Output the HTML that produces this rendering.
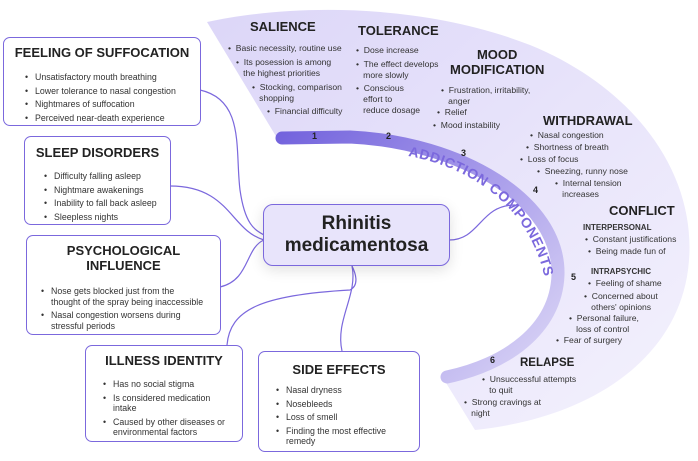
<!DOCTYPE html>
<html><head><meta charset="utf-8"><style>
body{margin:0;width:698px;height:461px;background:#fff;position:relative;overflow:hidden;font-family:"Liberation Sans","DejaVu Sans",sans-serif;color:#222}
.b{position:absolute;background:#fff;border:1.5px solid #7b68dd;border-radius:7px;box-sizing:border-box}
.t{position:absolute;font-weight:bold;font-size:13px;color:#222;white-space:nowrap;text-align:center}
.l{position:absolute;font-size:8.6px;line-height:11px;color:#333;white-space:nowrap}
ul{margin:0;padding:0;list-style:none}
.b ul{position:absolute;font-size:8.8px;line-height:13.5px;color:#333}
.b li{padding-left:10px;position:relative}
.b li:before{content:"•";position:absolute;left:0}
svg{position:absolute;left:0;top:0}
</style></head><body>
<svg width="698" height="461">
<defs>
<linearGradient id="g" x1="0" y1="0" x2="1" y2="1"><stop offset="0" stop-color="#dcd6f8"/><stop offset="1" stop-color="#f4f2fd"/></linearGradient>
<linearGradient id="bd" gradientUnits="userSpaceOnUse" x1="270" y1="130" x2="540" y2="390"><stop offset="0" stop-color="#7060dc"/><stop offset="0.5" stop-color="#a79bea"/><stop offset="1" stop-color="#dcd7f6"/></linearGradient>
</defs>
<path d="M207,22 C290,4 420,2 530,45 C640,90 700,180 688,270 C676,360 590,418 475,430 L443,378 L447,377 C505,365 558,330 558,275 C560,200 460,142 350,137 L277,138 Z" fill="url(#g)"/>
<path d="M282,138 L350,137 C460,142 560,200 558,275 C556,330 505,365 447,377" fill="none" stroke="url(#bd)" stroke-width="13" stroke-linecap="round"/>
<g fill="none" stroke="#7b68dd" stroke-width="1.2">
<path d="M200,90 C245,100 235,150 240,190 C245,225 255,230 264,235"/>
<path d="M170,186 C230,186 230,230 264,240"/>
<path d="M220,287 C250,280 245,248 264,240"/>
<path d="M227,345 C230,310 260,295 350,290 C360,285 355,272 352,266"/>
<path d="M342,351 C335,320 358,295 352,266"/>
<path d="M449,240 C480,240 480,205 515,205"/>
</g>
<path id="tp" d="M408,156 C475,168 540,212 548,300" fill="none"/>
<text font-family="Liberation Sans,sans-serif" font-weight="bold" font-size="14" fill="#7b68dd" letter-spacing="0.6"><textPath href="#tp">ADDICTION COMPONENTS</textPath></text>
<g font-family="Liberation Sans,sans-serif" font-weight="bold" font-size="9" fill="#222">
<text x="312" y="139">1</text><text x="386" y="139">2</text><text x="461" y="156">3</text><text x="533" y="193">4</text><text x="571" y="280">5</text><text x="490" y="363">6</text>
</g>
</svg>

<div class="b" style="left:3px;top:37px;width:198px;height:89px"><div class="t" style="left:0;right:0;top:7px">FEELING OF SUFFOCATION</div><ul style="left:21px;top:33px"><li>Unsatisfactory mouth breathing</li><li>Lower tolerance to nasal congestion</li><li>Nightmares of suffocation</li><li>Perceived near-death experience</li></ul></div>
<div class="b" style="left:24px;top:136px;width:147px;height:89px"><div class="t" style="left:0;right:0;top:8px">SLEEP DISORDERS</div><ul style="left:19px;top:33px"><li>Difficulty falling asleep</li><li>Nightmare awakenings</li><li>Inability to fall back asleep</li><li>Sleepless nights</li></ul></div>
<div class="b" style="left:26px;top:235px;width:195px;height:100px"><div class="t" style="left:0;right:0;top:7px;line-height:15px">PSYCHOLOGICAL<br>INFLUENCE</div><ul style="left:14px;top:50px;line-height:10.5px"><li>Nose gets blocked just from the<br>thought of the spray being inaccessible</li><li style="margin-top:3px">Nasal congestion worsens during<br>stressful periods</li></ul></div>
<div class="b" style="left:85px;top:345px;width:158px;height:97px"><div class="t" style="left:0;right:0;top:7px">ILLNESS IDENTITY</div><ul style="left:17px;top:33px;line-height:10.5px"><li>Has no social stigma</li><li style="margin-top:3px">Is considered medication<br>intake</li><li style="margin-top:3px">Caused by other diseases or<br>environmental factors</li></ul></div>
<div class="b" style="left:258px;top:351px;width:162px;height:101px"><div class="t" style="left:0;right:0;top:10px">SIDE EFFECTS</div><ul style="left:17px;top:32px"><li>Nasal dryness</li><li>Nosebleeds</li><li>Loss of smell</li><li style="line-height:10.5px;margin-top:1px">Finding the most effective<br>remedy</li></ul></div>
<div class="b" style="left:263px;top:204px;width:187px;height:62px;background:#e8e4fb;border-radius:10px;box-shadow:0 4px 14px rgba(0,0,0,.12)"><div class="t" style="left:0;right:0;top:8px;font-size:19px;line-height:22px">Rhinitis<br>medicamentosa</div></div>

<div class="t" style="left:250px;top:19px;font-size:13px">SALIENCE</div>
<div class="l" style="left:228px;top:43px">•&nbsp; Basic necessity, routine use</div>
<div class="l" style="left:236px;top:57px">•&nbsp; Its posession is among<br>&nbsp;&nbsp;&nbsp;the highest priorities</div>
<div class="l" style="left:252px;top:82px">•&nbsp; Stocking, comparison<br>&nbsp;&nbsp;&nbsp;shopping</div>
<div class="l" style="left:267px;top:106px">•&nbsp; Financial difficulty</div>
<div class="t" style="left:358px;top:23px">TOLERANCE</div>
<div class="l" style="left:356px;top:45px">•&nbsp; Dose increase</div>
<div class="l" style="left:356px;top:59px">•&nbsp; The effect develops<br>&nbsp;&nbsp;&nbsp;more slowly</div>
<div class="l" style="left:356px;top:83px">•&nbsp; Conscious<br>&nbsp;&nbsp;&nbsp;effort to<br>&nbsp;&nbsp;&nbsp;reduce dosage</div>
<div class="t" style="left:450px;top:47px;line-height:15px">MOOD<br>MODIFICATION</div>
<div class="l" style="left:441px;top:85px">•&nbsp; Frustration, irritability,<br>&nbsp;&nbsp;&nbsp;anger</div>
<div class="l" style="left:437px;top:107px">•&nbsp; Relief</div>
<div class="l" style="left:433px;top:120px">•&nbsp; Mood instability</div>
<div class="t" style="left:543px;top:113px">WITHDRAWAL</div>
<div class="l" style="left:530px;top:130px">•&nbsp; Nasal congestion</div>
<div class="l" style="left:526px;top:142px">•&nbsp; Shortness of breath</div>
<div class="l" style="left:520px;top:154px">•&nbsp; Loss of focus</div>
<div class="l" style="left:537px;top:166px">•&nbsp; Sneezing, runny nose</div>
<div class="l" style="left:555px;top:178px">•&nbsp; Internal tension<br>&nbsp;&nbsp;&nbsp;increases</div>
<div class="t" style="left:609px;top:203px">CONFLICT</div>
<div class="l" style="left:583px;top:222px;font-weight:bold;font-size:8px">INTERPERSONAL</div>
<div class="l" style="left:585px;top:234px">•&nbsp; Constant justifications</div>
<div class="l" style="left:588px;top:246px">•&nbsp; Being made fun of</div>
<div class="l" style="left:591px;top:266px;font-weight:bold;font-size:8px">INTRAPSYCHIC</div>
<div class="l" style="left:588px;top:278px">•&nbsp; Feeling of shame</div>
<div class="l" style="left:584px;top:291px">•&nbsp; Concerned about<br>&nbsp;&nbsp;&nbsp;others' opinions</div>
<div class="l" style="left:569px;top:313px">•&nbsp; Personal failure,<br>&nbsp;&nbsp;&nbsp;loss of control</div>
<div class="l" style="left:556px;top:335px">•&nbsp; Fear of surgery</div>
<div class="t" style="left:520px;top:357px;font-size:11.5px">RELAPSE</div>
<div class="l" style="left:482px;top:374px">•&nbsp; Unsuccessful attempts<br>&nbsp;&nbsp;&nbsp;to quit</div>
<div class="l" style="left:464px;top:397px">•&nbsp; Strong cravings at<br>&nbsp;&nbsp;&nbsp;night</div>
</body></html>
